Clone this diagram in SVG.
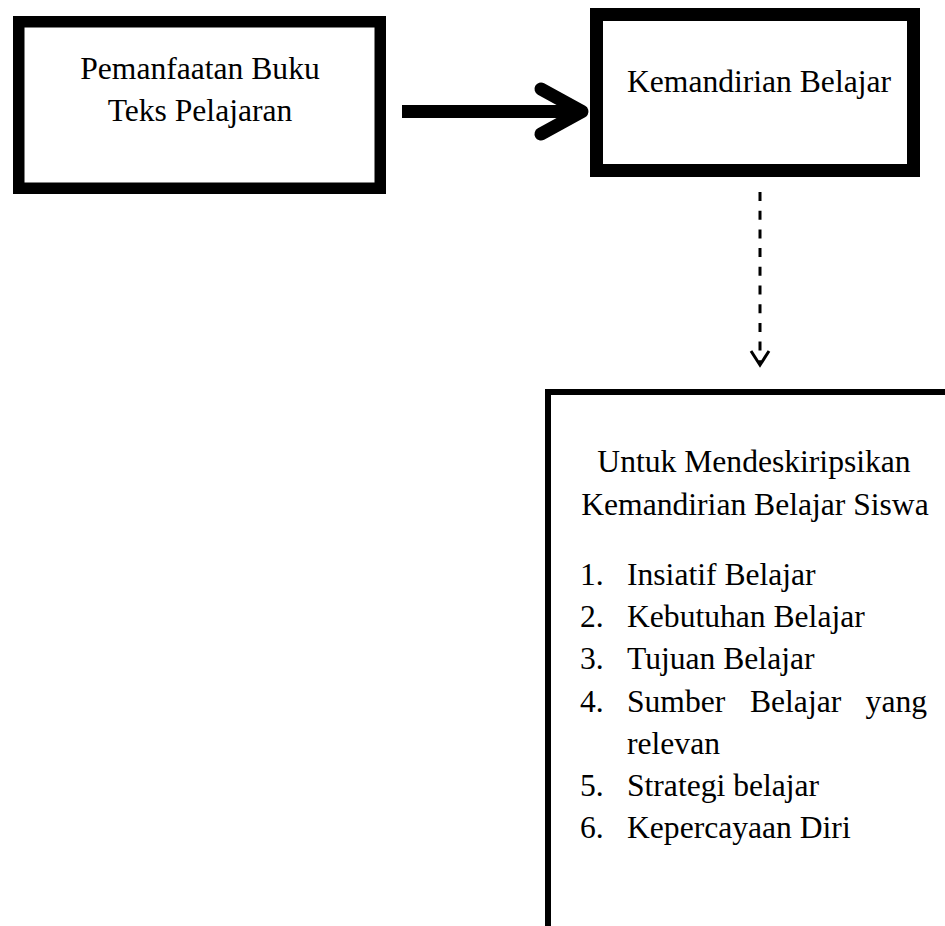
<svg xmlns="http://www.w3.org/2000/svg" width="945" height="926" viewBox="0 0 945 926">
<style>
.box{fill:#fff;stroke:#000}
.t{font-family:"Liberation Serif","Times New Roman",serif;font-size:31.6px;fill:#000}
.c{text-anchor:middle}
</style>
<rect width="945" height="926" fill="#fff"/>
<g id="node-pemanfaatan">
<rect class="box" x="18.75" y="21.75" width="361.5" height="166.5" stroke-width="11.5"/>
<text class="t c" x="200" y="79">Pemanfaatan Buku</text>
<text class="t c" x="200" y="121">Teks Pelajaran</text>
</g>
<g id="node-kemandirian">
<rect class="box" x="596.5" y="14.5" width="317" height="156" stroke-width="13"/>
<text class="t c" x="759" y="92">Kemandirian Belajar</text>
</g>
<g id="node-deskripsi">
<path d="M548 926 V392 H945" fill="none" stroke="#000" stroke-width="6"/>
<text class="t c" x="754" y="472">Untuk Mendeskiripsikan</text>
<text class="t c" x="755" y="515">Kemandirian Belajar Siswa</text>
<g class="t">
<text x="580" y="585">1.</text><text x="627" y="585">Insiatif Belajar</text>
<text x="580" y="627">2.</text><text x="627" y="627">Kebutuhan Belajar</text>
<text x="580" y="669">3.</text><text x="627" y="669">Tujuan Belajar</text>
<text x="580" y="712">4.</text><text x="627" y="712">Sumber</text><text x="750" y="712">Belajar</text><text x="927" y="712" text-anchor="end">yang</text>
<text x="627" y="754">relevan</text>
<text x="580" y="796">5.</text><text x="627" y="796">Strategi belajar</text>
<text x="580" y="838">6.</text><text x="627" y="838">Kepercayaan Diri</text>
</g>
</g>
<g id="connectors" fill="none" stroke="#000">
<line x1="402" y1="111.5" x2="578" y2="111.5" stroke-width="13"/>
<polyline points="541,89 582,111.5 541,134" stroke-width="13" stroke-linecap="round" stroke-linejoin="round"/>
<line x1="760" y1="192" x2="760" y2="364" stroke-width="3" stroke-dasharray="9 9.7"/>
<polyline points="751,351 760,365 769,351" stroke-width="3"/>
</g>
</svg>
